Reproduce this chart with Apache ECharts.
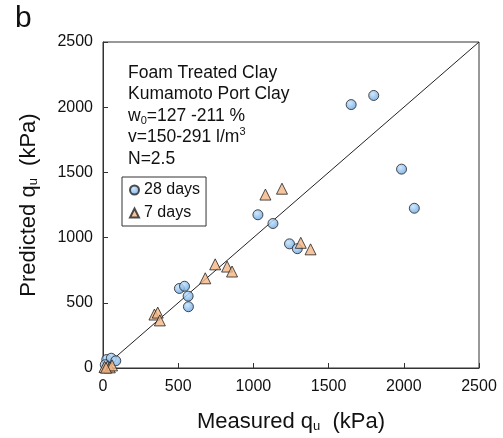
<!DOCTYPE html>
<html>
<head>
<meta charset="utf-8">
<script src="https://cdn.jsdelivr.net/npm/echarts@6/dist/echarts.min.js"></script>
<style>html,body{margin:0;padding:0;background:#fff}#c{width:503px;height:438px}</style>
</head>
<body>
<div id="c"></div>
<script>
const axisTicks = [0, 500, 1000, 1500, 2000, 2500];
const days28 = [
  [1650, 2020], [1800, 2090], [1985, 1525], [2070, 1225],
  [1030, 1175], [1130, 1108], [1240, 952], [1292, 915],
  [508, 610], [542, 627], [566, 551], [568, 470],
  [25, 65], [55, 75], [85, 55], [15, 25]
];
const days7 = [
  [1080, 1330], [1190, 1375], [1315, 960], [1380, 910],
  [746, 795], [825, 778], [858, 740], [680, 688],
  [342, 410], [364, 425], [378, 365],
  [10, 8], [30, 12], [45, 5], [60, 20], [20, 2]
];
const oneToOne = [[0, 0], [2500, 2500]];
const infoLines = ['Foam Treated Clay', 'Kumamoto Port Clay', 'w{sub|0}=127 -211 %', 'v=150-291 l/m{sup|3}', 'N=2.5'];

const FONT = 'Liberation Sans, Arial, sans-serif';
const chart = echarts.init(document.getElementById('c'), null, {renderer: 'canvas'});
const circleFill = {type: 'radial', x: 0.4, y: 0.35, r: 0.7, colorStops: [{offset: 0, color: '#c4e2fb'}, {offset: 1, color: '#5c9ee0'}]};
const triFill = '#f5b684';
chart.setOption({
  animation: false,
  grid: {left: 103, right: 24, top: 42, bottom: 68, show: true, borderColor: '#333', borderWidth: 1},
  graphic: [
    {type: 'text', left: 15, top: 4, style: {text: 'b', font: '30px ' + FONT, fill: '#111'}},
    {type: 'text', left: 128, top: 62, style: {
      text: infoLines.join('\n'), font: '17.5px ' + FONT, fill: '#111', lineHeight: 21.5,
      rich: {sub: {fontSize: 11, verticalAlign: 'bottom', padding: [8, 0, 0, 0], fontFamily: FONT},
             sup: {fontSize: 11, verticalAlign: 'top', padding: [0, 0, 8, 0], fontFamily: FONT}}
    }}
  ],
  legend: {
    orient: 'vertical', left: 122, top: 177,
    borderColor: '#333', borderWidth: 1, borderRadius: 0,
    padding: [5, 6, 5, 7], itemGap: 7, itemWidth: 9, itemHeight: 9,
    textStyle: {fontSize: 16, fontFamily: FONT, color: '#111', padding: [0, 0, 0, 0]},
    data: ['28 days', '7 days']
  },
  xAxis: {
    type: 'value', min: 0, max: 2500, interval: 500,
    name: 'Measured q{sub|u}  (kPa)', nameLocation: 'middle', nameGap: 42,
    nameTextStyle: {fontSize: 22, fontFamily: FONT, color: '#111',
      rich: {sub: {fontSize: 13, verticalAlign: 'bottom', padding: [10, 0, 0, 0], fontFamily: FONT}}},
    axisLine: {lineStyle: {color: '#333'}},
    axisTick: {inside: true, length: 5, lineStyle: {color: '#333'}},
    axisLabel: {fontSize: 16, fontFamily: FONT, color: '#111', margin: 11,
      formatter: v => axisTicks.includes(v) ? String(v) : ''},
    splitLine: {show: false}
  },
  yAxis: {
    type: 'value', min: 0, max: 2500, interval: 500,
    name: 'Predicted q{sub|u}  (kPa)', nameLocation: 'middle', nameGap: 63,
    nameTextStyle: {fontSize: 22, fontFamily: FONT, color: '#111',
      rich: {sub: {fontSize: 13, verticalAlign: 'bottom', padding: [10, 0, 0, 0], fontFamily: FONT}}},
    axisLine: {lineStyle: {color: '#333'}},
    axisTick: {inside: true, length: 5, lineStyle: {color: '#333'}},
    axisLabel: {fontSize: 16, fontFamily: FONT, color: '#111', margin: 10,
      formatter: v => axisTicks.includes(v) ? String(v) : ''},
    splitLine: {show: false}
  },
  series: [
    {type: 'line', data: oneToOne, symbol: 'none', lineStyle: {color: '#222', width: 1}, silent: true, z: 1},
    {name: '28 days', type: 'scatter', data: days28, symbol: 'circle', symbolSize: 10,
      itemStyle: {color: circleFill, borderColor: '#222', borderWidth: 1}, z: 3},
    {name: '7 days', type: 'scatter', data: days7, symbol: 'triangle', symbolSize: 11,
      itemStyle: {color: triFill, borderColor: '#222', borderWidth: 1}, z: 4}
  ]
});
</script>
</body>
</html>
